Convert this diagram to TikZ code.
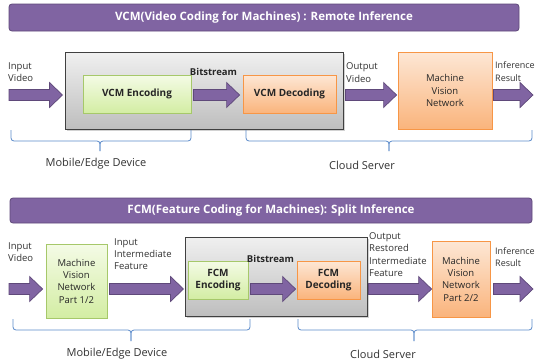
\documentclass[tikz,border=0pt]{standalone}
\usepackage{fontspec}
\setmainfont{Open Sans}
\usetikzlibrary{calc,shadows}

\definecolor{barfill}{HTML}{8064A2}
\definecolor{barline}{HTML}{5F497A}
\definecolor{boxgreen}{HTML}{A6C86A}
\definecolor{greentop}{HTML}{F4FBE6}
\definecolor{greenbot}{HTML}{D3EDA3}
\definecolor{boxorange}{HTML}{F79646}
\definecolor{orangetop}{HTML}{FDE7D5}
\definecolor{orangebot}{HTML}{FAB47C}
\definecolor{graytop}{HTML}{F0F0F0}
\definecolor{graybot}{HTML}{BEBEBE}
\definecolor{grayline}{HTML}{404040}
\definecolor{bracecol}{HTML}{5B8BCB}
\definecolor{labeltext}{HTML}{333333}

\tikzset{
  titlebar/.style={rounded corners=3pt, fill=barfill, draw=barline, line width=0.8pt,
    text=white, font=\fontsize{11.5}{13}\selectfont\bfseries, inner sep=0pt},
  container/.style={draw=grayline, line width=1pt, top color=graytop, bottom color=graybot,
    inner sep=0pt, drop shadow={shadow xshift=1.5pt, shadow yshift=-1.5pt, opacity=0.35}},
  greenbox/.style={draw=boxgreen, line width=0.8pt, top color=greentop, bottom color=greenbot,
    inner sep=0pt, align=center, text=black!85,
    drop shadow={shadow xshift=1pt, shadow yshift=-1pt, opacity=0.25}},
  orangebox/.style={draw=boxorange, line width=0.8pt, top color=orangetop, bottom color=orangebot,
    inner sep=0pt, align=center, text=black!85,
    drop shadow={shadow xshift=1pt, shadow yshift=-1pt, opacity=0.25}},
  boldtxt/.style={font=\fontsize{10}{12.8}\selectfont\bfseries},
  plaintxt/.style={font=\fontsize{9.5}{12.3}\selectfont},
  label/.style={plaintxt, anchor=west, align=left, inner sep=0pt, text=labeltext},
  bracelabel/.style={font=\fontsize{11}{13}\selectfont, inner sep=0pt, text=labeltext},
  brace/.style={draw=bracecol, line width=0.8pt, rounded corners=3pt},
  blockarrow/.style={fill=barfill, draw=barline, line width=0.7pt,
    to path={let \p1=(\tikztostart), \p2=(\tikztotarget) in
      (\x1,\y1+5.5pt) -- (\x2-13pt,\y1+5.5pt) -- (\x2-13pt,\y1+12.5pt) -- (\x2,\y1)
      -- (\x2-13pt,\y1-12.5pt) -- (\x2-13pt,\y1-5.5pt) -- (\x1,\y1-5.5pt) -- cycle}},
}

\begin{document}
\begin{tikzpicture}[x=1pt, y=-1pt]
  \useasboundingbox[fill=white] (0,0) rectangle (536,364);

  % ---------------- VCM: remote inference ----------------
  \node[titlebar, minimum width=510pt, minimum height=27pt] (title1) at (264,17.5)
    {VCM(Video Coding for Machines) : Remote Inference};

  \node[container, minimum width=278pt, minimum height=77pt] (cont1) at (204,90.5) {};
  \node[greenbox, boldtxt, minimum width=108pt, minimum height=38pt] (enc1) at (137,94) {VCM Encoding};
  \node[orangebox, boldtxt, minimum width=93pt, minimum height=38pt] (dec1) at (289.5,94) {VCM Decoding};
  \node[orangebox, plaintxt, minimum width=94pt, minimum height=77pt] (mvn) at (445,90.5)
    {Machine\\Vision\\Network};

  \coordinate (row1) at (0,95);
  \coordinate (in1) at (9,95);
  \coordinate (out1) at (533,95);

  \draw[blockarrow] (in1) to ([xshift=-2pt]cont1.west |- row1);
  \draw[blockarrow] ([xshift=2pt]enc1.east |- row1) to ([xshift=-3pt]dec1.west |- row1);
  \draw[blockarrow] ([xshift=2pt]cont1.east |- row1) to ([xshift=-1pt]mvn.west |- row1);
  \draw[blockarrow] ([xshift=1pt]mvn.east |- row1) to (out1);

  \node[label] (lin1) at (8,72) {Input\\Video};
  \node[boldtxt, font=\fontsize{9.5}{12}\selectfont\bfseries, inner sep=0pt, text=black!85] (bits1) at (213.5,72) {Bitstream};
  \node[label] (lout1) at (346,72.5) {Output\\Video};
  \node[label, font=\fontsize{9}{12.3}\selectfont] (lres1) at (495,71.5) {Inference\\Result};

  \draw[brace] (11,130) |- (100,141) -- (100,151);
  \draw[brace] (191,130) |- (100,141) -- (100,151);
  \draw[brace] (246,130) |- (389,141) -- (389,151);
  \draw[brace] (532,130) |- (389,141) -- (389,151);
  \node[bracelabel] (dev1) at (96,164) {Mobile/Edge Device};
  \node[bracelabel] (srv1) at (362,165) {Cloud Server};

  % ---------------- FCM: split inference ----------------
  \node[titlebar, minimum width=522pt, minimum height=25pt] (title2) at (271,210.5)
    {FCM(Feature Coding for Machines): Split Inference};

  \node[greenbox, plaintxt, minimum width=61pt, minimum height=74pt] (mvn1) at (76.5,281)
    {Machine\\Vision\\Network\\Part 1/2};
  \node[container, minimum width=182pt, minimum height=79pt] (cont2) at (276,276.5) {};
  \node[greenbox, boldtxt, minimum width=60pt, minimum height=38pt] (enc2) at (218,280) {FCM\\Encoding};
  \node[orangebox, boldtxt, minimum width=63pt, minimum height=38pt] (dec2) at (328.5,280) {FCM\\Decoding};
  \node[orangebox, plaintxt, minimum width=58pt, minimum height=76pt] (mvn2) at (461,279)
    {Machine\\Vision\\Network\\Part 2/2};

  \coordinate (row2) at (0,289);
  \coordinate (in2) at (9,289);
  \coordinate (out2) at (533,289);

  \draw[blockarrow] (in2) to ([xshift=-3pt]mvn1.west |- row2);
  \draw[blockarrow] ([xshift=2pt]mvn1.east |- row2) to ([xshift=-1pt]cont2.west |- row2);
  \draw[blockarrow] ([xshift=2pt]enc2.east |- row2) to ([xshift=-1pt]dec2.west |- row2);
  \draw[blockarrow] ([xshift=1pt]cont2.east |- row2) to (mvn2.west |- row2);
  \draw[blockarrow] ([xshift=3pt]mvn2.east |- row2) to (out2);

  \node[label] (lin2) at (8,252.5) {Input\\Video};
  \node[label] (lfeat) at (114,254) {Input\\Intermediate\\Feature};
  \node[boldtxt, font=\fontsize{9.5}{12}\selectfont\bfseries, inner sep=0pt, text=black!85] (bits2) at (270.5,259) {Bitstream};
  \node[label] (lrest) at (369,254.5) {Output\\Restored\\Intermediate\\Feature};
  \node[label, font=\fontsize{9}{12.3}\selectfont] (lres2) at (495,257) {Inference\\Result};

  \draw[brace] (13,319) |- (131,330) -- (131,341);
  \draw[brace] (250,319) |- (131,330) -- (131,341);
  \draw[brace] (298,319) |- (414,330) -- (414,341);
  \draw[brace] (532,319) |- (414,330) -- (414,341);
  \node[bracelabel] (dev2) at (117,354) {Mobile/Edge Device};
  \node[bracelabel] (srv2) at (383,354) {Cloud Server};
\end{tikzpicture}
\end{document}
